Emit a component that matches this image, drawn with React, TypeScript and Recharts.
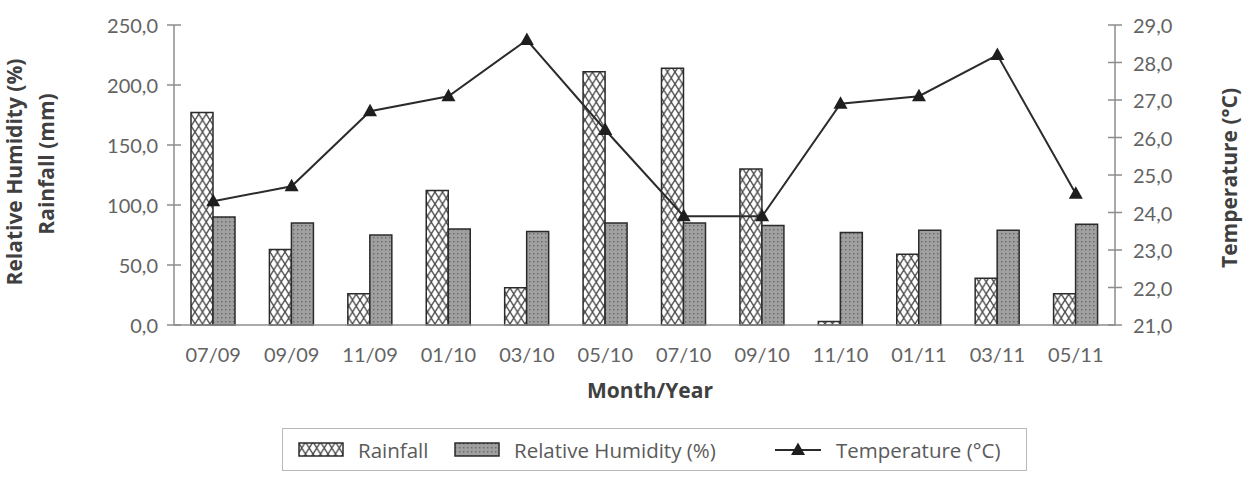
import React from "react";
import {
  ComposedChart,
  Bar,
  Line,
  XAxis,
  YAxis,
} from "recharts";

const months = ["07/09", "09/09", "11/09", "01/10", "03/10", "05/10", "07/10", "09/10", "11/10", "01/11", "03/11", "05/11"];
const rainfall = [177, 63, 26, 112, 31, 211, 214, 130, 3, 59, 39, 26];
const humidity = [90, 85, 75, 80, 78, 85, 85, 83, 77, 79, 79, 84];
const temperature = [24.3, 24.7, 26.7, 27.1, 28.6, 26.2, 23.9, 23.9, 26.9, 27.1, 28.2, 24.5];

const leftTicks = [0, 50, 100, 150, 200, 250];
const rightTicks = [21, 22, 23, 24, 25, 26, 27, 28, 29];

const rows = months.map((month, i) => ({
  month,
  rainfall: rainfall[i],
  humidity: humidity[i],
  temperature: temperature[i],
}));

const FONT = "Lato, 'Open Sans', sans-serif";
const TITLE_FONT = "'Open Sans', sans-serif";
const TEXT = "#636363";
const TITLE = "#404040";
const AXIS = "#8c8c8c";

const fmt = (v: number) => v.toFixed(1).replace(".", ",");

// tick text plus a short cross-tick over the axis line
const LeftTick = (props: any) => {
  const { x, y, payload } = props;
  const ax = x + 16;
  return (
    <g>
      <line x1={ax - 7} x2={ax + 7} y1={y} y2={y} stroke={AXIS} strokeWidth={1.5} />
      <text x={x} y={y} textAnchor="end" dominantBaseline="central" fill={TEXT} fontSize={20} fontFamily={FONT}>
        {fmt(payload.value)}
      </text>
    </g>
  );
};

const RightTick = (props: any) => {
  const { x, y, payload } = props;
  const ax = x - 18;
  return (
    <g>
      <line x1={ax - 7} x2={ax + 7} y1={y} y2={y} stroke={AXIS} strokeWidth={1.5} />
      <text x={x} y={y} textAnchor="start" dominantBaseline="central" fill={TEXT} fontSize={20} fontFamily={FONT}>
        {fmt(payload.value)}
      </text>
    </g>
  );
};

const LeftTitle = () => (
  <g fontFamily={TITLE_FONT} fontWeight={700} fontSize={21} fill={TITLE} textAnchor="middle">
    <text x={22} y={172} transform="rotate(-90, 22, 172)">Relative Humidity (%)</text>
    <text x={54} y={164} transform="rotate(-90, 54, 164)">Rainfall (mm)</text>
  </g>
);

const RightTitle = () => (
  <text
    x={1237}
    y={178}
    transform="rotate(-90, 1237, 178)"
    fontFamily={TITLE_FONT}
    fontWeight={700}
    fontSize={21}
    fill={TITLE}
    textAnchor="middle"
  >
    Temperature (°C)
  </text>
);

const BottomTitle = () => (
  <text x={650} y={398} fontFamily={TITLE_FONT} fontWeight={700} fontSize={21} fill={TITLE} textAnchor="middle">
    Month/Year
  </text>
);

const Triangle = (props: any) => {
  const { cx, cy, index } = props;
  if (cx == null || cy == null) return null;
  return (
    <polygon
      key={index}
      points={`${cx - 7},${cy + 5} ${cx + 7},${cy + 5} ${cx},${cy - 7.5}`}
      fill="#1e1e1e"
    />
  );
};

const Patterns = ({ prefix = "" }: { prefix?: string }) => (
  <defs>
    <pattern id={`${prefix}hatch`} patternUnits="userSpaceOnUse" width={7.5} height={12}>
      <rect width={7.5} height={12} fill="#ffffff" />
      <path d="M0,0 L7.5,12 M7.5,0 L0,12" stroke="#4d4d4d" strokeWidth={1.4} />
    </pattern>
    <pattern id={`${prefix}dots`} patternUnits="userSpaceOnUse" width={4} height={4}>
      <rect width={4} height={4} fill="#a0a0a0" />
      <rect x={1} y={1} width={1.4} height={1.4} fill="#6a6a6a" />
    </pattern>
  </defs>
);

const legendText: React.CSSProperties = {
  position: "absolute",
  top: 7,
  fontSize: 20.5,
  fontFamily: TITLE_FONT,
  color: "#5a5a5a",
  lineHeight: "28px",
  whiteSpace: "nowrap",
};

const ChartLegend = () => (
  <div
    style={{
      position: "absolute",
      left: 282,
      top: 428,
      width: 745,
      height: 43,
      border: "1.5px solid #b8b8b8",
      boxSizing: "border-box",
    }}
  >
    <svg style={{ position: "absolute", left: 15, top: 13 }} width={46} height={15}>
      <Patterns prefix="lg-" />
      <rect x={1} y={1} width={44} height={13} fill="url(#lg-hatch)" stroke="#2b2b2b" strokeWidth={1.5} />
    </svg>
    <span style={{ ...legendText, left: 75 }}>Rainfall</span>
    <svg style={{ position: "absolute", left: 171, top: 13 }} width={46} height={15}>
      <rect x={1} y={1} width={44} height={13} fill="url(#lg-dots)" stroke="#2b2b2b" strokeWidth={1.5} />
    </svg>
    <span style={{ ...legendText, left: 231 }}>Relative Humidity (%)</span>
    <svg style={{ position: "absolute", left: 492, top: 10 }} width={46} height={20}>
      <line x1={0} x2={46} y1={11} y2={11} stroke="#2b2b2b" strokeWidth={2} />
      <polygon points="16,16 30,16 23,3.5" fill="#1e1e1e" />
    </svg>
    <span style={{ ...legendText, left: 553 }}>Temperature (°C)</span>
  </div>
);

export default function App() {
  return (
    <div style={{ position: "absolute", left: 0, top: 0, width: 1249, height: 478, background: "#fff" }}>
      <ComposedChart
        width={1249}
        height={478}
        data={rows}
        margin={{ top: 25, right: 0, bottom: 73, left: 0 }}
        barGap={0}
      >
        <Patterns />
        <XAxis
          dataKey="month"
          height={80}
          interval={0}
          axisLine={{ stroke: AXIS, strokeWidth: 1.5 }}
          tickLine={false}
          tickMargin={17}
          tick={{ fill: TEXT, fontSize: 20, fontFamily: FONT }}
          label={<BottomTitle />}
        />
        <YAxis
          yAxisId="left"
          width={174}
          domain={[0, 250]}
          ticks={leftTicks}
          axisLine={{ stroke: AXIS, strokeWidth: 1.5 }}
          tickLine={false}
          tickSize={7}
          tickMargin={9}
          tick={<LeftTick />}
          label={<LeftTitle />}
        />
        <YAxis
          yAxisId="right"
          orientation="right"
          width={134}
          domain={[21, 29]}
          ticks={rightTicks}
          axisLine={{ stroke: AXIS, strokeWidth: 1.5 }}
          tickLine={false}
          tickSize={7}
          tickMargin={11}
          tick={<RightTick />}
          label={<RightTitle />}
        />
        <Bar
          yAxisId="left"
          dataKey="rainfall"
          barSize={22}
          fill="url(#hatch)"
          stroke="#2b2b2b"
          strokeWidth={1.5}
          isAnimationActive={false}
        />
        <Bar
          yAxisId="left"
          dataKey="humidity"
          barSize={22}
          fill="url(#dots)"
          stroke="#2b2b2b"
          strokeWidth={1.5}
          isAnimationActive={false}
        />
        <Line
          yAxisId="right"
          dataKey="temperature"
          type="linear"
          stroke="#2b2b2b"
          strokeWidth={2}
          dot={<Triangle />}
          activeDot={false}
          isAnimationActive={false}
        />
      </ComposedChart>
      <ChartLegend />
    </div>
  );
}
